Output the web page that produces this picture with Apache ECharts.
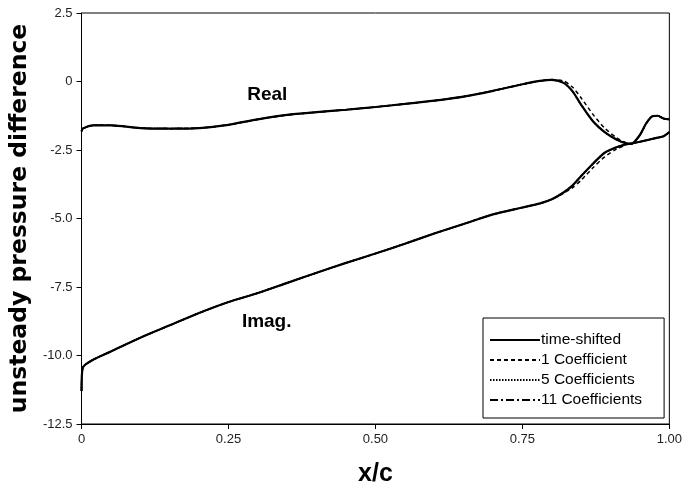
<!DOCTYPE html>
<html>
<head>
<meta charset="utf-8">
<script src="https://cdn.jsdelivr.net/npm/echarts@6/dist/echarts.min.js"></script>
<style>
  html, body { margin: 0; padding: 0; background: #fff; }
  #chart { width: 685px; height: 494px; }
</style>
</head>
<body>
<div id="chart"></div>
<script>
// Chordwise stations x/c
var xs = [0, 0.002, 0.02, 0.05, 0.1, 0.15, 0.2, 0.25, 0.3, 0.35, 0.4, 0.45, 0.5, 0.55, 0.6, 0.65,
          0.7, 0.75, 0.78, 0.8, 0.82, 0.835, 0.85, 0.87, 0.89, 0.91, 0.925, 0.935, 0.95, 0.96,
          0.97, 0.98, 0.99, 1.0];

// Time-shifted solution: real and imaginary parts
var realY = [-1.82, -1.72, -1.6, -1.6, -1.7, -1.72, -1.7, -1.58, -1.38, -1.22, -1.12, -1.03, -0.93, -0.82,
             -0.7, -0.55, -0.34, -0.1, 0.02, 0.06, -0.05, -0.35, -0.85, -1.45, -1.85, -2.12, -2.25, -2.28,
             -1.95, -1.55, -1.28, -1.25, -1.35, -1.38];
var imagY = [-11.3, -10.45, -10.15, -9.85, -9.35, -8.9, -8.45, -8.05, -7.72, -7.35, -6.98, -6.62, -6.28,
             -5.92, -5.55, -5.2, -4.85, -4.6, -4.45, -4.3, -4.05, -3.8, -3.45, -3.0, -2.6, -2.4, -2.3,
             -2.26, -2.2, -2.15, -2.1, -2.05, -2.0, -1.85];

// One-coefficient approximation (departs from the time-shifted curves near the trailing edge)
var oneCoefRealY = [-1.82, -1.72, -1.6, -1.6, -1.7, -1.72, -1.7, -1.58, -1.38, -1.22, -1.12, -1.03, -0.93, -0.82,
                    -0.7, -0.55, -0.34, -0.1, 0.02, 0.07, 0.02, -0.2, -0.6, -1.2, -1.7, -2.05, -2.22, -2.28,
                    -1.95, -1.55, -1.28, -1.25, -1.35, -1.38];
var oneCoefImagY = [-11.3, -10.45, -10.15, -9.85, -9.35, -8.9, -8.45, -8.05, -7.72, -7.35, -6.98, -6.62, -6.28,
                    -5.92, -5.55, -5.2, -4.85, -4.6, -4.45, -4.3, -4.08, -3.88, -3.6, -3.15, -2.75, -2.47, -2.32,
                    -2.26, -2.2, -2.15, -2.1, -2.05, -2.0, -1.85];

// 5- and 11-coefficient approximations lie on the time-shifted curves
var fiveCoefRealY = realY, fiveCoefImagY = imagY;
var elevenCoefRealY = realY, elevenCoefImagY = imagY;

var legendNames = ['time-shifted', '1 Coefficient', '5 Coefficients', '11 Coefficients'];
var yTicks = [2.5, 0, -2.5, -5.0, -7.5, -10.0, -12.5];
var xTicks = [0, 0.25, 0.5, 0.75, 1.0];

function pairs(ys) { return xs.map(function (x, i) { return [x, ys[i]]; }); }

function lineSeries(name, ys, type, width, z) {
  return {
    name: name, type: 'line', data: pairs(ys), symbol: 'none', smooth: 0.25, z: z,
    lineStyle: { color: '#000', width: width, type: type },
    itemStyle: { color: '#000' },
    emphasis: { disabled: true }, animation: false
  };
}

var chart = echarts.init(document.getElementById('chart'), null, { renderer: 'canvas' });

var tickFont = { fontFamily: '"Liberation Sans Narrow", "Liberation Sans", Arial, sans-serif', fontSize: 13, color: '#222' };

var s11r = lineSeries('11 Coefficients', elevenCoefRealY, [8, 3, 2, 3], 1.5, 2);
var s11i = lineSeries('11 Coefficients', elevenCoefImagY, [8, 3, 2, 3], 1.5, 2);
var s5r = lineSeries('5 Coefficients', fiveCoefRealY, [1.5, 1.5], 1.5, 3);
var s5i = lineSeries('5 Coefficients', fiveCoefImagY, [1.5, 1.5], 1.5, 3);
var s1r = lineSeries('1 Coefficient', oneCoefRealY, [4, 3], 1.5, 4);
var s1i = lineSeries('1 Coefficient', oneCoefImagY, [4, 3], 1.5, 4);
var str = lineSeries('time-shifted', realY, 'solid', 2.2, 5);
var sti = lineSeries('time-shifted', imagY, 'solid', 2.2, 5);

// Curve labels
var labelFont = { fontFamily: '"Liberation Sans", Arial, sans-serif', fontWeight: 'bold', fontSize: 19, color: '#000' };
str.markPoint = {
  symbol: 'circle', symbolSize: 0, silent: true, animation: false,
  label: Object.assign({ show: true, position: 'inside', formatter: 'Real' }, labelFont),
  data: [{ coord: [0.316, -0.5] }]
};
sti.markPoint = {
  symbol: 'circle', symbolSize: 0, silent: true, animation: false,
  label: Object.assign({ show: true, position: 'inside', formatter: 'Imag.' }, labelFont),
  data: [{ coord: [0.315, -8.78] }]
};

chart.setOption({
  animation: false,
  backgroundColor: '#fff',
  grid: { left: 80, right: 13, top: 13, bottom: 70, show: true, borderColor: '#000', borderWidth: 1, backgroundColor: 'transparent' },
  legend: {
    data: legendNames.map(function (n) { return { name: n }; }),
    orient: 'vertical', left: 483, top: 318,
    itemWidth: 50, itemHeight: 14, itemGap: 4,
    padding: [14, 22, 10, 6],
    backgroundColor: '#fff', borderColor: '#000', borderWidth: 1,
    itemStyle: { opacity: 0 },
    textStyle: { fontFamily: '"Liberation Sans", Arial, sans-serif', fontSize: 15.5, lineHeight: 16, color: '#000', padding: [0, 0, 0, -4] },
    selectedMode: false
  },
  xAxis: {
    type: 'value', min: 0, max: 1, interval: 0.25,
    name: 'x/c', nameLocation: 'middle', nameGap: 38,
    nameTextStyle: { fontFamily: '"Liberation Sans Narrow", "Liberation Sans", Arial, sans-serif', fontWeight: 'bold', fontSize: 25, color: '#000' },
    axisLine: { show: true, onZero: false, lineStyle: { color: '#000', width: 1 } },
    axisTick: { show: true, inside: false, length: 5, lineStyle: { color: '#000' } },
    axisLabel: Object.assign({ margin: 9, formatter: function (v) {
      var t = xTicks.indexOf(v); return t === 0 ? '0' : v.toFixed(2);
    } }, tickFont),
    splitLine: { show: false }
  },
  yAxis: {
    type: 'value', min: -12.5, max: 2.5, interval: 2.5,
    name: 'unsteady pressure difference', nameLocation: 'middle', nameGap: 47, nameRotate: 90,
    nameTextStyle: { fontFamily: '"DejaVu Sans", sans-serif', fontWeight: 'bold', fontSize: 23.5, color: '#000' },
    axisLine: { show: true, onZero: false, lineStyle: { color: '#000', width: 1 } },
    axisTick: { show: true, inside: false, length: 5, lineStyle: { color: '#000' } },
    axisLabel: Object.assign({ margin: 9, formatter: function (v) {
      return yTicks.indexOf(v) >= 0 && v === 0 ? '0' : v.toFixed(1);
    } }, tickFont),
    splitLine: { show: false }
  },
  series: [s11r, s11i, s5r, s5i, s1r, s1i, str, sti]
});
</script>
</body>
</html>
